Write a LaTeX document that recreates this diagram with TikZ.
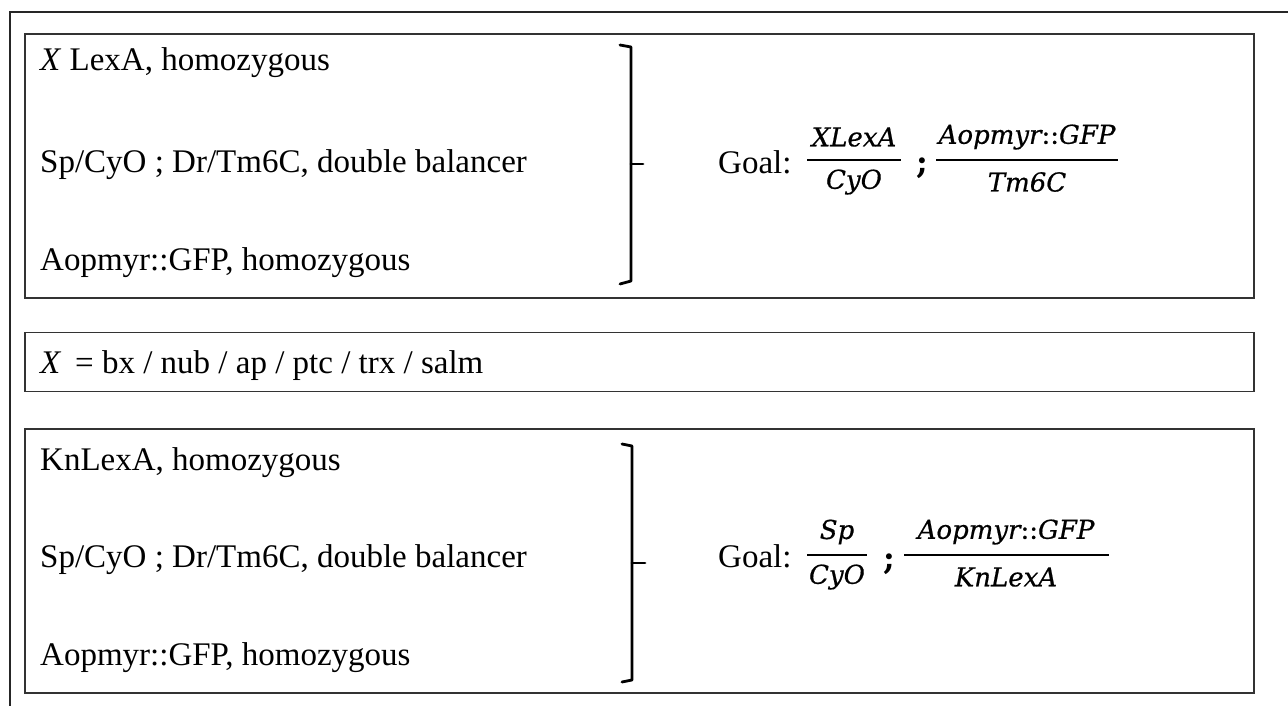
\documentclass[tikz,border=0pt]{standalone}
\usepackage{fontspec}
\setmainfont{Liberation Serif}
\newfontfamily\gfont{DejaVu Serif}[FakeBold=0.6]
\newfontfamily\sfont{DejaVu Serif}
\begin{document}
\begin{tikzpicture}[x=1pt,y=-1pt,
  box/.style={draw=black!80, line width=1.6pt, inner sep=0pt},
  outerline/.style={draw=black!85, line width=2.6pt},
  brk/.style={draw=black, line width=2.8pt, line cap=round, line join=round},
  txt/.style={anchor=base west, inner sep=0pt, font=\fontsize{33}{38}\selectfont},
  gtxt/.style={anchor=base west, inner sep=0pt, font=\fontsize{33}{38}\selectfont},
  mth/.style={inner sep=0pt, font=\gfont\itshape\fontsize{26}{30}\selectfont},
  semi/.style={anchor=base, inner sep=0pt, font=\sfont\bfseries\fontsize{32}{34}\selectfont},
  bar/.style={draw=black, line width=2.2pt}]
\useasboundingbox (0,0) rectangle (1288,706);
% outer frame lines
\coordinate (otr) at (1288,12);
\coordinate (otl) at (10,12);
\coordinate (obl) at (10,706);
\draw[outerline] (otr) -- (otl) -- (obl);
% boxes
\node[box, minimum width=1229pt, minimum height=264pt] (b1) at (639.5,166) {};
\node[box, minimum width=1229pt, minimum height=59pt] (b2) at (639.5,362) {};
\node[box, minimum width=1229pt, minimum height=264pt] (b3) at (639.5,561) {};
% box 1 texts
\node[txt] (t11) at (40,71) {\textit{X} LexA, homozygous};
\node[txt] (t12) at (40,172) {Sp/CyO ; Dr/Tm6C, double balancer};
\node[txt] (t13) at (40,270) {Aopmyr::GFP, homozygous};
% bracket 1
\coordinate (a1) at (620,45);
\coordinate (a2) at (631,47);
\coordinate (a3) at (631,281);
\coordinate (a4) at (620,284);
\coordinate (am) at (631,164);
\coordinate (at) at (643,164);
\draw[brk] (a1) -- (a2) -- (a3) -- (a4);
\draw[brk] (am) -- (at);
% goal 1
\node[gtxt] (g1) at (718,173) {Goal:};
\coordinate (f1l) at (807,160); \coordinate (f1r) at (901,160);
\draw[bar] (f1l) -- (f1r);
\node[mth] (n1) at (854,137) {XLexA};
\node[mth] (d1) at (854,182) {CyO};
\node[semi] (s1) at (922,174) {;};
\coordinate (f2l) at (936,160); \coordinate (f2r) at (1118,160);
\draw[bar] (f2l) -- (f2r);
\node[mth] (n2) at (1027,137) {Aopmyr{\upshape::}GFP};
\node[mth] (d2) at (1027,182) {Tm6C};
% box 2
\node[txt] (t21) at (40,373) {\textit{X} \,= bx / nub / ap / ptc / trx / salm};
% box 3 texts
\node[txt] (t31) at (40,470) {KnLexA, homozygous};
\node[txt] (t32) at (40,567) {Sp/CyO ; Dr/Tm6C, double balancer};
\node[txt] (t33) at (40,665) {Aopmyr::GFP, homozygous};
% bracket 3
\coordinate (c1) at (622,444);
\coordinate (c2) at (632,446);
\coordinate (c3) at (632,680);
\coordinate (c4) at (622,682);
\coordinate (cm) at (632,563);
\coordinate (ct) at (645,563);
\draw[brk] (c1) -- (c2) -- (c3) -- (c4);
\draw[brk] (cm) -- (ct);
% goal 3
\node[gtxt] (g3) at (718,567) {Goal:};
\coordinate (f3l) at (807,555); \coordinate (f3r) at (867,555);
\draw[bar] (f3l) -- (f3r);
\node[mth] (n3) at (837,532) {Sp};
\node[mth] (d3) at (837,577) {CyO};
\node[semi] (s3) at (889,569) {;};
\coordinate (f4l) at (904,555); \coordinate (f4r) at (1109,555);
\draw[bar] (f4l) -- (f4r);
\node[mth] (n4) at (1006,532) {Aopmyr{\upshape::}GFP};
\node[mth] (d4) at (1006,577) {KnLexA};
\end{tikzpicture}
\end{document}
